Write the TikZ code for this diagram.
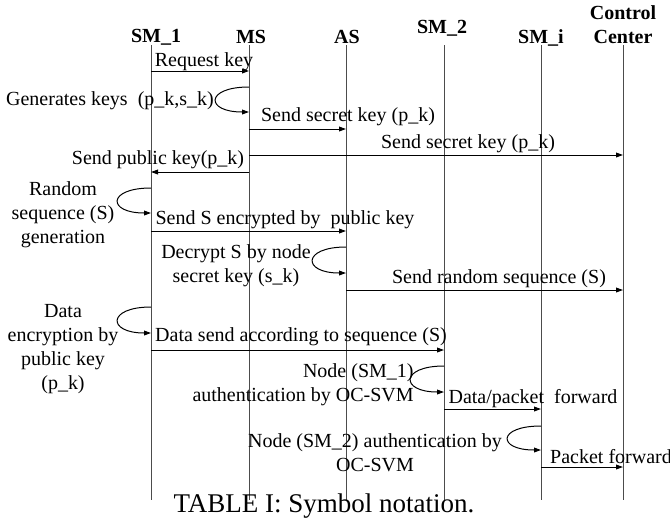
\documentclass[tikz,border=0pt]{standalone}
\usepackage{fontspec}
\setmainfont{Liberation Serif}
\usetikzlibrary{arrows.meta}

\begin{document}
\begin{tikzpicture}[x=0.5pt,y=-0.5pt,
  lifeline/.style={draw=black!70, line width=0.5pt},
  msg/.style={line width=0.5pt, -{Triangle[length=3.5pt,width=2.4pt]}},
  head/.style={font=\bfseries, inner sep=0pt, align=center},
  lbl/.style={inner sep=0pt, align=center}]

\useasboundingbox (0,0) rectangle (670,521);

%--- x positions of the lifelines
\def\xSMone{151}
\def\xMS{249}
\def\xAS{346}
\def\xSMtwo{444}
\def\xSMi{541}
\def\xCC{623}
% top and bottom of the lifelines
\def\yTop{45}
\def\yBot{500}
% reach of a self loop to the left
\def\loopw{44}

%--- Headers
\node[head] (SMone) at (156,37) {SM\_1};
\node[head] (MS) at (251,37) {MS};
\node[head] (AS) at (347,37) {AS};
\node[head] (SMtwo) at (442,28) {SM\_2};
\node[head] (SMi) at (541,38) {SM\_i};
\node[head] (CC) at (623,25) {Control\\Center};

%--- Lifelines
\coordinate (SMoneTop) at (\xSMone,\yTop);  \coordinate (SMoneBot) at (\xSMone,\yBot);
\coordinate (MSTop) at (\xMS,\yTop);        \coordinate (MSBot) at (\xMS,\yBot);
\coordinate (ASTop) at (\xAS,\yTop);        \coordinate (ASBot) at (\xAS,\yBot);
\coordinate (SMtwoTop) at (\xSMtwo,\yTop);  \coordinate (SMtwoBot) at (\xSMtwo,\yBot);
\coordinate (SMiTop) at (\xSMi,\yTop);      \coordinate (SMiBot) at (\xSMi,\yBot);
\coordinate (CCTop) at (\xCC,\yTop);        \coordinate (CCBot) at (\xCC,\yBot);
\draw[lifeline] (SMoneTop) -- (SMoneBot);
\draw[lifeline] (MSTop) -- (MSBot);
\draw[lifeline] (ASTop) -- (ASBot);
\draw[lifeline] (SMtwoTop) -- (SMtwoBot);
\draw[lifeline] (SMiTop) -- (SMiBot);
\draw[lifeline] (CCTop) -- (CCBot);

%--- 1) request key
\coordinate (reqA) at (\xSMone,71); \coordinate (reqB) at (\xMS,71);
\draw[msg] (reqA) -- (reqB);
\node[lbl] (reqLbl) at (204,62) {Request key};

%--- 2) key generation at MS
\coordinate (genA) at (\xMS,87); \coordinate (genB) at (\xMS,112);
\draw[msg] (genA) .. controls +(-\loopw,0) and +(-\loopw,0) .. (genB);
\node[lbl] (genLbl) at (110,101) {Generates keys~~(p\_k,s\_k)};

%--- 3) secret key to AS
\coordinate (skA) at (\xMS,129); \coordinate (skB) at (\xAS,129);
\draw[msg] (skA) -- (skB);
\node[lbl] (skLbl) at (348,117) {Send secret key (p\_k)};

%--- 4) secret key to control center
\coordinate (skcA) at (\xMS,155); \coordinate (skcB) at (\xCC,155);
\draw[msg] (skcA) -- (skcB);
\node[lbl] (skcLbl) at (468,144) {Send secret key (p\_k)};

%--- 5) public key back to SM_1
\coordinate (pkA) at (\xMS,172); \coordinate (pkB) at (\xSMone,172);
\draw[msg] (pkA) -- (pkB);
\node[lbl] (pkLbl) at (158,160) {Send public key(p\_k)};

%--- 6) random sequence at SM_1
\coordinate (rndA) at (\xSMone,188); \coordinate (rndB) at (\xSMone,213);
\draw[msg] (rndA) .. controls +(-\loopw,0) and +(-\loopw,0) .. (rndB);
\node[lbl] (rndLbl) at (63,215) {Random\\sequence (S)\\generation};

%--- 7) encrypted S to AS
\coordinate (encA) at (\xSMone,231); \coordinate (encB) at (\xAS,231);
\draw[msg] (encA) -- (encB);
\node[lbl] (encLbl) at (285,220) {Send S encrypted by~~public key};

%--- 8) decryption at AS
\coordinate (decA) at (\xAS,247); \coordinate (decB) at (\xAS,273);
\draw[msg] (decA) .. controls +(-\loopw,0) and +(-\loopw,0) .. (decB);
\node[lbl] (decLbl) at (236,266) {Decrypt S by node\\secret key (s\_k)};

%--- 9) random sequence to control center
\coordinate (seqA) at (\xAS,290); \coordinate (seqB) at (\xCC,290);
\draw[msg] (seqA) -- (seqB);
\node[lbl] (seqLbl) at (499,279) {Send random sequence (S)};

%--- 10) data encryption at SM_1
\coordinate (datA) at (\xSMone,307); \coordinate (datB) at (\xSMone,333);
\draw[msg] (datA) .. controls +(-\loopw,0) and +(-\loopw,0) .. (datB);
\node[lbl] (datLbl) at (63,349) {Data\\encryption by\\public key\\(p\_k)};

%--- 11) data to SM_2
\coordinate (sendA) at (\xSMone,350); \coordinate (sendB) at (\xSMtwo,350);
\draw[msg] (sendA) -- (sendB);
\node[lbl] (sendLbl) at (301,337) {Data send according to sequence (S)};

%--- 12) authentication at SM_2
\coordinate (authA) at (\xSMtwo,366); \coordinate (authB) at (\xSMtwo,392);
\draw[msg] (authA) .. controls +(-\loopw,0) and +(-\loopw,0) .. (authB);
\node[lbl, align=right, anchor=east] (authLbl) at (414,385) {Node (SM\_1)\\authentication by OC-SVM};

%--- 13) forward to SM_i
\coordinate (fwdA) at (\xSMtwo,409); \coordinate (fwdB) at (\xSMi,409);
\draw[msg] (fwdA) -- (fwdB);
\node[lbl] (fwdLbl) at (533,399) {Data/packet~~forward};

%--- 14) authentication at SM_i
\coordinate (autiA) at (\xSMi,426); \coordinate (autiB) at (\xSMi,450);
\draw[msg] (autiA) .. controls +(-\loopw,0) and +(-\loopw,0) .. (autiB);
\node[lbl] (autiLbl) at (375,453) {Node (SM\_2) authentication by\\OC-SVM};

%--- 15) packet to control center
\coordinate (pktA) at (\xSMi,467); \coordinate (pktB) at (\xCC,467);
\draw[msg] (pktA) -- (pktB);
\node[lbl] (pktLbl) at (611,457) {Packet forward};

%--- Caption
\node[font=\fontsize{13.5}{16}\selectfont, inner sep=0pt] (caption) at (324,506) {TABLE I: Symbol notation.};

\end{tikzpicture}
\end{document}
